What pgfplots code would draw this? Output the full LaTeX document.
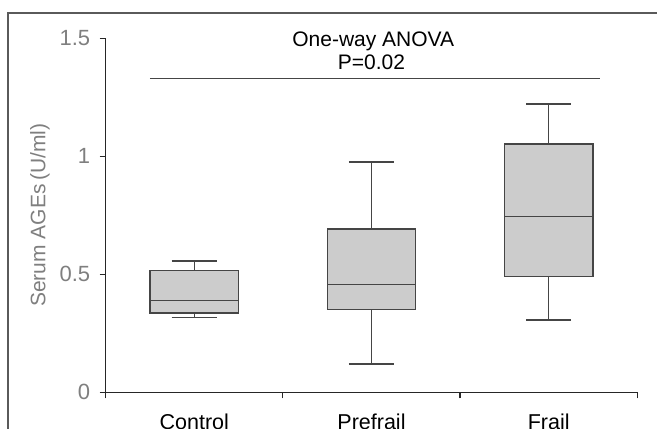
\documentclass[border=0pt]{standalone}
\usepackage{fontspec}
\setmainfont{Liberation Sans}
\usepackage{pgfplots}
\pgfplotsset{compat=1.18}
\usepgfplotslibrary{statistics}
\definecolor{boxfill}{HTML}{CCCCCC}
\definecolor{boxline}{HTML}{454545}
\definecolor{labgray}{HTML}{7F7F7F}
\definecolor{framec}{HTML}{5A5A5A}
\begin{document}
\begin{tikzpicture}
\useasboundingbox (0,0) rectangle (657pt,429pt);
\clip (0,0) rectangle (657pt,429pt);
\draw[line width=1.2pt, framec] (8pt,-5pt) -- (8pt,416pt) -- (665pt,416pt);
\begin{axis}[
  at={(105.7pt,36.7pt)}, anchor=south west,
  scale only axis, width=531.6pt, height=354pt,
  xmin=-0.5, xmax=2.5, ymin=0, ymax=1.5,
  axis x line=bottom, axis y line=left,
  axis line style={-, line width=1.2pt, black!85},
  tick align=outside,
  major tick length=6pt,
  tick style={line width=1.2pt, black!85},
  xtick={-0.5,0.5,1.5,2.5}, xticklabels={},
  extra x ticks={0,1,2},
  extra x tick labels={Control,Prefrail,Frail},
  extra x tick style={major tick length=0pt,
    tick label style={anchor=base, yshift=-37pt, font=\fontsize{21.5}{25}\selectfont, text=black}},
  ytick={0,0.5,1,1.5},
  yticklabels={0,0.5,1,1.5},
  yticklabel style={text=labgray, font=\fontsize{22}{26}\selectfont, xshift=-6pt},
  ylabel={Serum AGEs\,(U/ml)},
  ylabel style={at={(axis description cs:-0.1236,0.5)}, anchor=center, text=labgray, font=\fontsize{21}{25}\selectfont},
  boxplot/draw direction=y,
  clip=false,
]
\addplot[draw=boxline, fill=boxfill, line width=1.2pt, mark=none,
  boxplot prepared={draw position=0, lower whisker=0.316, lower quartile=0.336,
  median=0.388, upper quartile=0.515, upper whisker=0.556,
  box extend=0.5, whisker extend=0.255}] coordinates {};
\addplot[draw=boxline, fill=boxfill, line width=1.2pt, mark=none,
  boxplot prepared={draw position=1, lower whisker=0.120, lower quartile=0.352,
  median=0.458, upper quartile=0.692, upper whisker=0.976,
  box extend=0.5, whisker extend=0.255}] coordinates {};
\addplot[draw=boxline, fill=boxfill, line width=1.2pt, mark=none,
  boxplot prepared={draw position=2, lower whisker=0.306, lower quartile=0.490,
  median=0.744, upper quartile=1.052, upper whisker=1.222,
  box extend=0.5, whisker extend=0.255}] coordinates {};
\addplot[boxline, line width=1.2pt, mark=none] coordinates {(-0.25,1.329) (2.29,1.329)};
\node[anchor=base, font=\fontsize{21}{25}\selectfont] at (axis cs:1.01,1.467) {One-way ANOVA};
\node[anchor=base, font=\fontsize{21}{25}\selectfont] at (axis cs:1.0,1.369) {P=0.02};
\end{axis}
\end{tikzpicture}
\end{document}
